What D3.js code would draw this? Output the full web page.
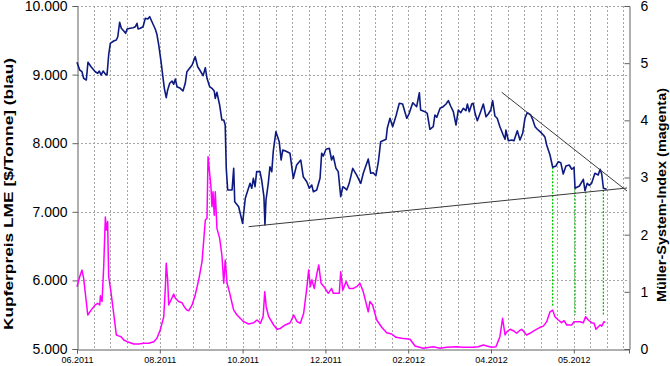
<!DOCTYPE html>
<html><head><meta charset="utf-8">
<script src="https://cdn.jsdelivr.net/npm/d3@7"></script>
<style>body{margin:0;background:#fff}svg text{font-family:Arial,"Liberation Sans",sans-serif}</style>
</head><body><svg id="c" width="670" height="366"></svg>
<script>
// ---- data ----
const xTickIdx = [0, 40, 80, 120, 160, 200, 240];
const xTickLabels = ["06.2011", "08.2011", "10.2011", "12.2011", "02.2012", "04.2012", "05.2012"];
const leftTicks = [5000, 6000, 7000, 8000, 9000, 10000];
const rightTicks = [0, 1, 2, 3, 4, 5, 6];
const leftTitle = "Kupferpreis LME [$/Tonne] (blau)";
const rightTitle = "Müller-System-Index (magenta)";
// copper price (trading-day index, $/t)
const copper = [[0,9180],[1.3,9067],[2.4,9042],[3.2,8946],[4.5,8921],[5.3,9180],[6.8,9115],[8.8,9042],[10,9019],[10.8,9052],[11.6,8994],[12.6,9052],[13.7,9009],[14.5,8994],[15.3,9286],[16.1,9456],[17.7,9490],[19,9504],[19.7,9552],[20.6,9762],[21.4,9675],[22.6,9636],[23.5,9602],[24.2,9665],[25.7,9675],[27.1,9684],[28.2,9698],[29,9748],[29.5,9665],[30.6,9675],[31.9,9698],[33,9821],[34.2,9810],[35.1,9844],[36.2,9771],[37.8,9665],[38.6,9587],[39.5,9431],[40.6,9188],[41.5,8969],[42.2,8800],[43.1,8663],[43.8,8776],[44.8,8873],[45.9,8907],[46.7,8859],[47.5,8936],[48.3,8824],[49.9,8800],[51.2,8761],[52.3,8873],[53.1,9042],[55.6,9140],[57.1,9261],[58.3,9115],[59.3,9067],[60.9,8984],[62,9101],[62.8,8946],[64.1,8824],[65.2,8800],[66.3,8761],[66.8,8654],[67.6,8742],[68.9,8557],[70,8338],[70.9,8338],[71.6,8265],[72.1,7634],[72.8,7318],[74.9,7318],[75.7,7634],[76.2,7147],[78.1,7074],[80,6832],[81.3,7197],[83.6,7415],[84.4,7343],[85.2,7488],[86,7366],[86.8,7585],[88.4,7585],[89.2,7464],[90.3,7220],[90.8,6808],[91.3,7172],[92.4,7415],[93.2,7657],[94.1,7585],[94.8,7876],[96.1,8168],[97.7,8022],[98.6,7755],[99.4,7901],[100.5,7891],[102.9,7853],[104.5,7488],[106.1,7682],[108.1,7755],[109.3,7512],[111,7439],[112.2,7343],[113.4,7391],[114.2,7293],[115.8,7318],[117.4,7488],[118.2,7853],[119,7813],[120.3,7911],[121.9,7926],[123,7755],[123.8,7813],[125.1,7634],[126.2,7585],[127.4,7220],[128.4,7366],[129.5,7343],[130.3,7318],[131.5,7415],[133.2,7634],[135.1,7536],[137.1,7415],[138.3,7561],[140.7,7770],[141.9,7561],[143.1,7570],[144.4,7526],[145.6,7730],[146.7,8022],[149.3,8057],[149.9,8217],[151.2,8363],[152.5,8240],[154.1,8396],[155.7,8582],[157.3,8571],[159.3,8363],[160.5,8436],[162.2,8590],[164.1,8532],[165.4,8736],[166,8484],[168.1,8459],[169.2,8436],[170.5,8203],[172.1,8240],[172.9,8411],[173.8,8378],[175.4,8509],[176.9,8532],[178.3,8571],[179.4,8620],[180.5,8542],[181.8,8459],[183.1,8265],[184.2,8484],[185.4,8445],[186.6,8509],[187.9,8474],[188.6,8571],[189.5,8459],[190.7,8571],[191.4,8582],[192.3,8436],[193.4,8328],[195,8459],[196.3,8571],[197.6,8386],[198.7,8426],[199.9,8484],[200.8,8620],[201.9,8396],[203,8363],[204.3,8240],[205.9,8120],[206.8,8057],[207.2,8192],[208.4,8036],[210,8047],[211.1,8036],[212.7,8182],[214,8047],[215.3,8144],[216.4,8363],[217.5,8445],[219.2,8411],[220.1,8348],[221.3,8240],[222.4,8203],[223.7,8168],[225.3,8120],[226.1,8086],[226.9,7974],[228.5,7828],[229.8,7649],[231.4,7668],[232.5,7730],[233.7,7716],[234.9,7551],[236.2,7668],[237.8,7682],[239,7620],[240.1,7649],[240.6,7343],[242.7,7376],[244.6,7474],[245.4,7308],[246.5,7415],[247.5,7386],[248.6,7415],[250.2,7561],[251.8,7536],[252.7,7620],[253.5,7551],[254.3,7343],[255.9,7328]];
// Müller-System-Index (trading-day index, value)
const msi = [[0,1.09],[1.3,1.265],[2.4,1.38],[3.2,1.24],[5.2,0.595],[6.8,0.68],[8.8,0.77],[10,0.8],[11,0.77],[11.3,0.93],[12.1,0.83],[12.9,1.44],[13.7,2.31],[14.2,2.08],[14.8,2.23],[15.3,1.265],[16.4,1.0],[17.7,0.625],[19,0.245],[20.1,0.23],[21.3,0.215],[22.6,0.157],[24.2,0.128],[25.7,0.11],[27.4,0.087],[29.8,0.087],[32.2,0.1],[34.6,0.1],[37.1,0.128],[38.6,0.187],[40.2,0.33],[41.9,0.565],[42.7,1.09],[43.1,1.5],[43.8,1.21],[44.3,0.77],[45.4,0.857],[46.7,0.96],[47.5,0.887],[49.1,0.83],[50.7,0.81],[51.8,0.74],[53.1,0.68],[54,0.67],[55.6,0.77],[57.1,0.945],[58.8,1.21],[60.4,1.527],[62,2.257],[62.8,2.286],[63.3,3.364],[64.1,3.07],[64.7,2.84],[65.2,2.49],[65.7,2.75],[66.3,2.34],[66.8,2.75],[67.6,2.11],[68.9,1.94],[70,1.64],[70.9,1.15],[71.6,1.557],[72.5,1.15],[73.8,0.974],[74.9,0.8],[75.7,0.68],[77.3,0.595],[80.5,0.478],[82.9,0.437],[85.4,0.46],[87,0.507],[88.6,0.45],[89.9,0.565],[90.7,1.0],[91.4,0.74],[92.6,0.565],[95,0.42],[96.6,0.345],[98.2,0.36],[100.6,0.42],[103,0.46],[104.7,0.595],[106.3,0.478],[107.9,0.45],[109.5,0.625],[111.1,1.09],[111.9,1.38],[112.7,1.09],[113.5,1.21],[114.6,1.06],[115.9,1.324],[116.8,1.47],[117.9,1.15],[119.3,1.09],[121.4,0.974],[123,1.06],[123.8,0.974],[126.7,0.974],[127.4,1.35],[128.4,1.03],[130,1.18],[131.5,1.06],[133.5,1.06],[135.1,1.09],[136.7,1.15],[138.3,1.0],[140.7,0.65],[141.5,0.83],[142.8,0.77],[144.8,0.507],[147.2,0.38],[149.6,0.285],[152,0.262],[154.1,0.205],[156.9,0.187],[160.9,0.17],[163.3,0.052],[167.3,0.012],[172.1,0.04],[175.4,0.012],[178.6,0.03],[183.4,0.04],[186.6,0.03],[191.4,0.03],[193.9,0.04],[196.3,0.07],[198,0.052],[200.3,0.03],[202.4,0.04],[204.3,0.215],[205.6,0.537],[206.8,0.245],[207.6,0.3],[209.2,0.345],[210.8,0.32],[212.4,0.275],[213.7,0.32],[214.8,0.345],[215.9,0.3],[217.2,0.245],[218.8,0.275],[221.3,0.33],[223.7,0.38],[225.3,0.4],[226.9,0.478],[228.5,0.65],[229.8,0.68],[230.9,0.565],[232.5,0.507],[234.1,0.46],[235.3,0.495],[236.6,0.42],[239,0.42],[240.1,0.478],[243,0.478],[244.6,0.46],[245.7,0.565],[247,0.507],[248.6,0.46],[249.8,0.45],[250.7,0.345],[251.9,0.39],[252.7,0.42],[253.5,0.4],[254.6,0.478],[255.1,0.46]];
// triangle trend lines on copper price
const trendLower = [[82.9,6783],[265.7,7347]];
const trendUpper = [[205.2,8742],[265.7,7303]];
// green dotted signal markers
const signalIdx = [229.8, 240.6, 245.7, 254.3];
const signalTop = [7649, 7343, 7293, 7318];      // copper scale
const signalBottom = [0.74, 0.595, 0.595, 0.595]; // index scale

// ---- layout ----
const L = 77, R = 629, T = 6, B = 349;
const xMax = 266.67, gridStep = 8;
const svg = d3.select("#c");
const x = d3.scaleLinear().domain([0, xMax]).range([L, R]);
const yL = d3.scaleLinear().domain([5000, 10000]).range([B, T]);
const yR = d3.scaleLinear().domain([0, 6]).range([B, T]);

// grid
const grid = svg.append("g").attr("stroke", "#a6a6a6").attr("stroke-width", 1).attr("stroke-dasharray", "2,2");
leftTicks.filter(d => d > 5000).forEach(d => {
  grid.append("line").attr("x1", L).attr("x2", R).attr("y1", Math.round(yL(d)) + 0.5).attr("y2", Math.round(yL(d)) + 0.5);
});
d3.range(gridStep, xMax, gridStep).forEach(d => {
  grid.append("line").attr("x1", Math.round(x(d)) + 0.5).attr("x2", Math.round(x(d)) + 0.5).attr("y1", T).attr("y2", B);
});

// axes
const fmt = d => d3.format(",")(d).replace(/,/g, ".");
const axL = svg.append("g").attr("transform", `translate(${L + 0.5},0)`)
  .call(d3.axisLeft(yL).tickValues(leftTicks).tickFormat(fmt).tickSize(5).tickPadding(5));
axL.selectAll("text").attr("font-size", 14).attr("fill", "#000").attr("font-family", "Arial, 'Liberation Sans', sans-serif");
const axR = svg.append("g").attr("transform", `translate(${R + 0.5},0)`)
  .call(d3.axisRight(yR).tickValues(rightTicks).tickFormat(d3.format("d")).tickSize(-5).tickPadding(11));
axR.selectAll("text").attr("font-size", 14).attr("fill", "#000").attr("font-family", "Arial, 'Liberation Sans', sans-serif");
const axB = svg.append("g").attr("transform", `translate(0,${B + 0.5})`)
  .call(d3.axisBottom(x).tickValues(xTickIdx).tickFormat((d, i) => xTickLabels[i]).tickSize(4).tickPadding(3));
axB.selectAll("text").attr("font-size", 9).attr("fill", "#000").attr("font-family", "Arial, 'Liberation Sans', sans-serif");
[axL, axR, axB].forEach(a => { a.select(".domain").attr("stroke", "#606060"); a.selectAll(".tick line").attr("stroke", "#606060"); });

// titles
svg.append("text").attr("transform", "translate(13,194) rotate(-90)").attr("text-anchor", "middle")
  .attr("font-size", 13).attr("font-weight", "bold").attr("textLength", 272).attr("lengthAdjust", "spacingAndGlyphs").text(leftTitle);
svg.append("text").attr("transform", "translate(666,195) rotate(-90)").attr("text-anchor", "middle")
  .attr("font-size", 13).attr("font-weight", "bold").attr("textLength", 214).attr("lengthAdjust", "spacingAndGlyphs").text(rightTitle);

// signal markers
signalIdx.forEach((d, i) => {
  svg.append("line").attr("x1", x(d)).attr("x2", x(d)).attr("y1", yL(signalTop[i])).attr("y2", yR(signalBottom[i]))
    .attr("stroke", "#00c800").attr("stroke-width", 1.3).attr("stroke-dasharray", "2,1.5");
});

// series
const lineL = d3.line().x(d => x(d[0])).y(d => yL(d[1]));
const lineR = d3.line().x(d => x(d[0])).y(d => yR(d[1]));
svg.append("path").datum(msi).attr("d", lineR).attr("fill", "none").attr("stroke", "#ff00ff").attr("stroke-width", 1.5).attr("stroke-linejoin", "round");
svg.append("path").datum(copper).attr("d", lineL).attr("fill", "none").attr("stroke", "#0d1a80").attr("stroke-width", 1.6).attr("stroke-linejoin", "round");
[trendLower, trendUpper].forEach(t => {
  svg.append("path").datum(t).attr("d", lineL).attr("fill", "none").attr("stroke", "#3a3a3a").attr("stroke-width", 1);
});
</script></body></html>
